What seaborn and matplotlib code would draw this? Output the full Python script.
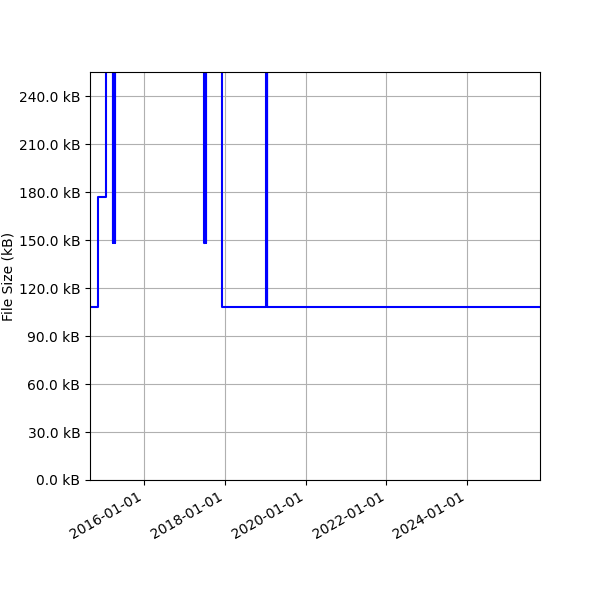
import pandas as pd
import matplotlib
matplotlib.use("Agg")
import matplotlib.pyplot as plt
import matplotlib.ticker as mticker
import seaborn as sns

# File size history (values in kB)
dates = [
    "2014-08-30", "2014-11-07", "2015-01-22",
    "2015-03-26", "2015-03-30", "2015-04-03", "2015-04-07", "2015-04-10", "2015-04-13",
    "2017-06-27", "2017-07-01", "2017-07-04", "2017-07-07", "2017-07-10", "2017-07-13",
    "2017-12-10", "2019-01-10", "2019-01-14", "2019-01-17", "2019-01-20",
    "2025-10-22",
]
sizes_kb = [
    108, 177, 320,
    148, 320, 148, 320, 148, 320,
    148, 320, 148, 320, 148, 320,
    108, 320, 108, 320, 108,
    108,
]

data = pd.DataFrame({"date": pd.to_datetime(dates), "size": sizes_kb})

fig, ax = plt.subplots(figsize=(6, 6), dpi=100)
sns.lineplot(
    x="date",
    y="size",
    data=data,
    drawstyle="steps-post",
    color="blue",
    linewidth=1.5,
    ax=ax,
)

ax.set_ylim(0, 255)
ax.set_xlim(data["date"].min(), data["date"].max())
ax.yaxis.set_major_locator(mticker.MultipleLocator(30))
ax.yaxis.set_major_formatter(mticker.FuncFormatter(lambda v, p: f"{v:.1f} kB"))
ax.xaxis.set_major_locator(matplotlib.dates.YearLocator(2))
ax.xaxis.set_major_formatter(matplotlib.dates.DateFormatter("%Y-%m-%d"))
ax.set_xlabel("")
ax.set_ylabel("File Size (kB)", labelpad=2.5)
ax.grid(True)

fig.autofmt_xdate()
fig.subplots_adjust(left=0.15, right=0.9, top=0.88, bottom=0.2)
fig.savefig("out.png", dpi=100)
